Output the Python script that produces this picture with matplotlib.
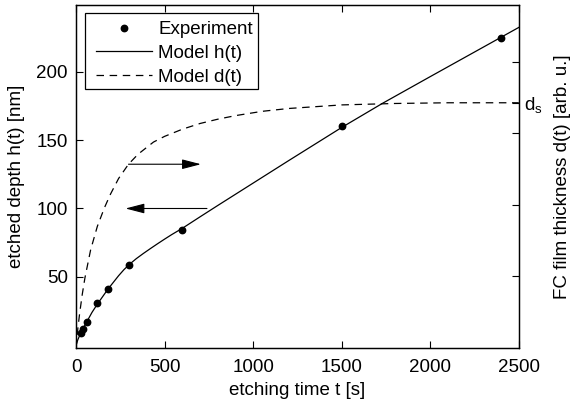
import matplotlib
matplotlib.use("Agg")
import matplotlib.pyplot as plt
from matplotlib.patches import Rectangle

plt.rcParams['font.family'] = ['Liberation Sans', 'DejaVu Sans']
plt.rcParams['mathtext.fontset'] = 'custom'
plt.rcParams['mathtext.rm'] = 'Liberation Sans'

# Experimental data
t_exp = [30, 40, 60, 120, 180, 300, 600, 1500, 2400]
h_exp = [9, 12, 17, 31, 41, 59, 84, 160, 225]

# Model h(t)
t_h = [0, 10, 20, 30, 45, 60, 90, 120, 180, 240, 270, 300, 340, 380, 420, 460, 500, 540, 600, 700, 800, 900, 1000, 1200, 1500, 1731, 2000, 2250, 2500]
h_mod = [0, 4, 7, 10, 13.5, 17, 24, 30, 41, 50.8, 55.2, 59, 63.3, 67.1, 70.7, 74.2, 77.6, 80.9, 85.5, 93.9, 102.2, 110.4, 118.6, 135, 159.3, 177, 196.5, 214.5, 232.5]

# Model d(t) (right axis, arb. u.)
t_d = [0, 10, 20, 35, 50, 82, 120, 160, 194, 240, 296, 350, 437, 500, 600, 700, 800, 900, 1050, 1200, 1500, 1800, 2100, 2500]
d_mod = [0, 0.27, 0.48, 0.75, 0.98, 1.37, 1.70, 1.96, 2.15, 2.37, 2.57, 2.71, 2.88, 2.96, 3.06, 3.14, 3.20, 3.25, 3.31, 3.35, 3.40, 3.42, 3.43, 3.43]
d_s = 3.43

x_ticks = [0, 500, 1000, 1500, 2000, 2500]
y_ticks = [50, 100, 150, 200]
y2_ticks = [1, 2, 3, 4]

FS = 13.5
W, H = 572, 405

fig = plt.figure(figsize=(5.72, 4.05), dpi=100)
ax = fig.add_axes([0.133, 0.141, 0.774, 0.847])
ax2 = ax.twinx()

l1, = ax.plot(t_exp, h_exp, 'o', color='black', markersize=4.6, label='Experiment')
l2, = ax.plot(t_h, h_mod, '-', color='black', lw=0.9, label='Model h(t)')
l3, = ax2.plot(t_d, d_mod, '--', color='black', lw=0.9, dashes=(6, 4.5), label='Model d(t)')

ax.set_xlim(0, 2500)
ax.set_ylim(-2, 249)
ax2.set_ylim(0, 4.8)

ax.set_xticks(x_ticks)
ax.set_xticklabels([str(v) for v in x_ticks])
ax.set_yticks(y_ticks)
ax.set_yticklabels([str(v) for v in y_ticks])
ax.tick_params(axis='x', direction='in', top=True, length=5, width=0.8, labelsize=FS, pad=8)
ax.tick_params(axis='y', direction='in', right=False, length=5, width=0.8, labelsize=FS, pad=6)

ax2.set_yticks(y2_ticks + [d_s])
ax2.set_yticklabels([''] * len(y2_ticks) + ['$\\mathregular{d_s}$'])
ax2.tick_params(axis='y', direction='in', length=5, width=0.8, labelsize=FS, pad=4)

ax.set_xlabel('etching time t [s]', fontsize=FS, labelpad=4)
ax.set_ylabel('etched depth h(t) [nm]', fontsize=FS, labelpad=8)
ax2.set_ylabel('FC film thickness d(t) [arb. u.]', fontsize=FS, labelpad=8)

for a in (ax, ax2):
    for s in a.spines.values():
        s.set_linewidth(0.9)

# arrows indicating which axis each model belongs to
astyle = '-|>,head_length=0.58,head_width=0.15'
ax2.annotate('', xy=(705, 2.57), xytext=(296, 2.57),
             arrowprops=dict(arrowstyle=astyle, color='black', lw=0.8,
                             mutation_scale=20, shrinkA=0, shrinkB=0))
ax.annotate('', xy=(279, 100), xytext=(739, 100),
            arrowprops=dict(arrowstyle=astyle, color='black', lw=0.8,
                            mutation_scale=20, shrinkA=0, shrinkB=0))

# legend frame drawn as rectangle, legend itself frameless
frame = Rectangle((85 / W, 1 - 89 / H), 173 / W, 76 / H, transform=fig.transFigure,
                  facecolor='white', edgecolor='black', lw=0.9, zorder=4)
ax2.add_patch(frame)
leg = ax2.legend(handles=[l1, l2, l3], loc='upper left', fontsize=FS,
                 frameon=False, bbox_to_anchor=(96 / W, 1 - 21 / H),
                 bbox_transform=fig.transFigure,
                 borderaxespad=0, borderpad=0, handlelength=3.0, handletextpad=0.32,
                 labelspacing=0.36)
leg.set_zorder(5)

fig.savefig('out.png', dpi=100)
